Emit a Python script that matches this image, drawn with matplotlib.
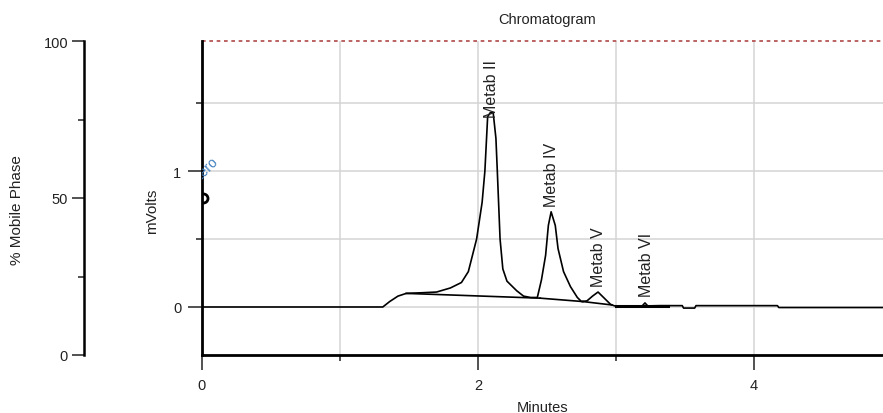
import numpy as np
import matplotlib
matplotlib.use("Agg")
import matplotlib.pyplot as plt
from matplotlib.ticker import MultipleLocator

plt.rcParams['font.family'] = ['Liberation Sans', 'DejaVu Sans']

# trace (minutes, mVolts)
time_min = [0.00, 1.31, 1.36, 1.42, 1.48, 1.60, 1.70, 1.80, 1.88, 1.93, 1.96, 1.99,
            2.03, 2.05, 2.07, 2.09, 2.11, 2.13, 2.14, 2.16, 2.18, 2.21, 2.28, 2.33,
            2.38, 2.43, 2.46, 2.49, 2.51, 2.53, 2.56, 2.58, 2.62, 2.67, 2.72, 2.75,
            2.79, 2.83, 2.87, 2.91, 2.96, 2.99, 3.10, 3.19, 3.21, 3.23, 3.32, 3.48,
            3.49, 3.57, 3.58, 4.17, 4.18, 4.95]
mvolts = [0.000, 0.000, 0.040, 0.080, 0.100, 0.105, 0.110, 0.140, 0.180, 0.260, 0.380, 0.500,
          0.770, 1.000, 1.400, 1.430, 1.430, 1.240, 1.000, 0.500, 0.280, 0.190, 0.120, 0.080,
          0.070, 0.070, 0.200, 0.380, 0.600, 0.700, 0.600, 0.430, 0.260, 0.150, 0.070, 0.040,
          0.045, 0.080, 0.110, 0.070, 0.020, 0.008, 0.005, 0.008, 0.030, 0.008, 0.010, 0.010,
          -0.008, -0.008, 0.010, 0.010, -0.004, -0.004]

# integration baselines
base_t = [[1.48, 2.45], [2.45, 2.76], [2.76, 2.97], [3.00, 3.38]]
base_v = [[0.100, 0.065], [0.065, 0.040], [0.040, 0.015], [0.004, 0.004]]

peak_names = ['Metab II', 'Metab IV', 'Metab V', 'Metab VI']
peak_times = [2.10, 2.53, 2.87, 3.22]
peak_heights = [1.43, 0.70, 0.11, 0.03]

fig = plt.figure(figsize=(8.83, 4.14), dpi=100)
W, H = 883, 414

ax = fig.add_axes([202 / W, 58 / H, 681 / W, 314 / H])
ax.set_xlim(0, 4.935)
ax.set_ylim(-0.353, 1.956)

txt = '#222222'
ax.grid(True, which='both', color='#d4d4d4', lw=1.1, zorder=0)
ax.xaxis.set_major_locator(MultipleLocator(2))
ax.xaxis.set_minor_locator(MultipleLocator(1))
ax.yaxis.set_major_locator(MultipleLocator(1))
ax.yaxis.set_minor_locator(MultipleLocator(0.5))
ax.tick_params(which='major', length=10, width=1.1, colors='#222222', labelsize=10.5, pad=5)
ax.tick_params(which='minor', length=4.5, width=1.1, colors='#222222')
ax.tick_params(axis='x', which='major', length=10.5, pad=6)
for s in ['top', 'right']:
    ax.spines[s].set_visible(False)
for s in ['left', 'bottom']:
    ax.spines[s].set_linewidth(2)
ax.axhline(1.956, color='#b04848', ls=(0, (2.2, 2.2)), lw=1.2, clip_on=False)

ax.plot(time_min, mvolts, color='black', lw=1.2, zorder=3)
for bt, bv in zip(base_t, base_v):
    ax.plot(bt, bv, color='black', lw=1.2 if bt[0] < 3 else 2.2, zorder=3)

offs = [-3, 4, 4, 5]
for name, t, h, o in zip(peak_names, peak_times, peak_heights, offs):
    ax.annotate(name, (t, h), xytext=(0, o), textcoords='offset points',
                rotation=90, ha='center', va='bottom', fontsize=11.5, color=txt)

ax.plot([0.007], [0.80], 'o', ms=6.5, mfc='none', mec='black', mew=2, clip_on=True, zorder=4)
ax.text(-0.012, 0.9, 'Zero', rotation=45, rotation_mode='anchor', ha='left', va='bottom',
        fontsize=10, color='#3f7fbf', clip_on=True)

ax.set_xlabel('Minutes', fontsize=10.5, color=txt, labelpad=6)
fig.text(547 / W, 1 - 20 / H, 'Chromatogram', ha='center', va='center', fontsize=10.5, color=txt)
fig.text(152 / W, 1 - 211 / H, 'mVolts', rotation=90, ha='center', va='center', fontsize=11, color=txt)

# mobile phase axis
ax2 = fig.add_axes([84 / W, 58 / H, 0.0001, 314 / H])
ax2.set_facecolor('none')
ax2.set_ylim(0, 100)
ax2.set_xticks([])
ax2.yaxis.set_major_locator(MultipleLocator(50))
ax2.yaxis.set_minor_locator(MultipleLocator(25))
for s in ['top', 'right', 'bottom']:
    ax2.spines[s].set_visible(False)
ax2.spines['left'].set_linewidth(1.8)
ax2.tick_params(which='major', length=8.5, width=1.1, labelsize=10.5, colors='#222222', pad=3)
ax2.tick_params(which='minor', length=4, width=1.1, colors='#222222')
fig.text(17 / W, 1 - 210 / H, '% Mobile Phase', rotation=90, ha='center', va='center',
         fontsize=11, color=txt)

fig.savefig('out.png', dpi=100)
